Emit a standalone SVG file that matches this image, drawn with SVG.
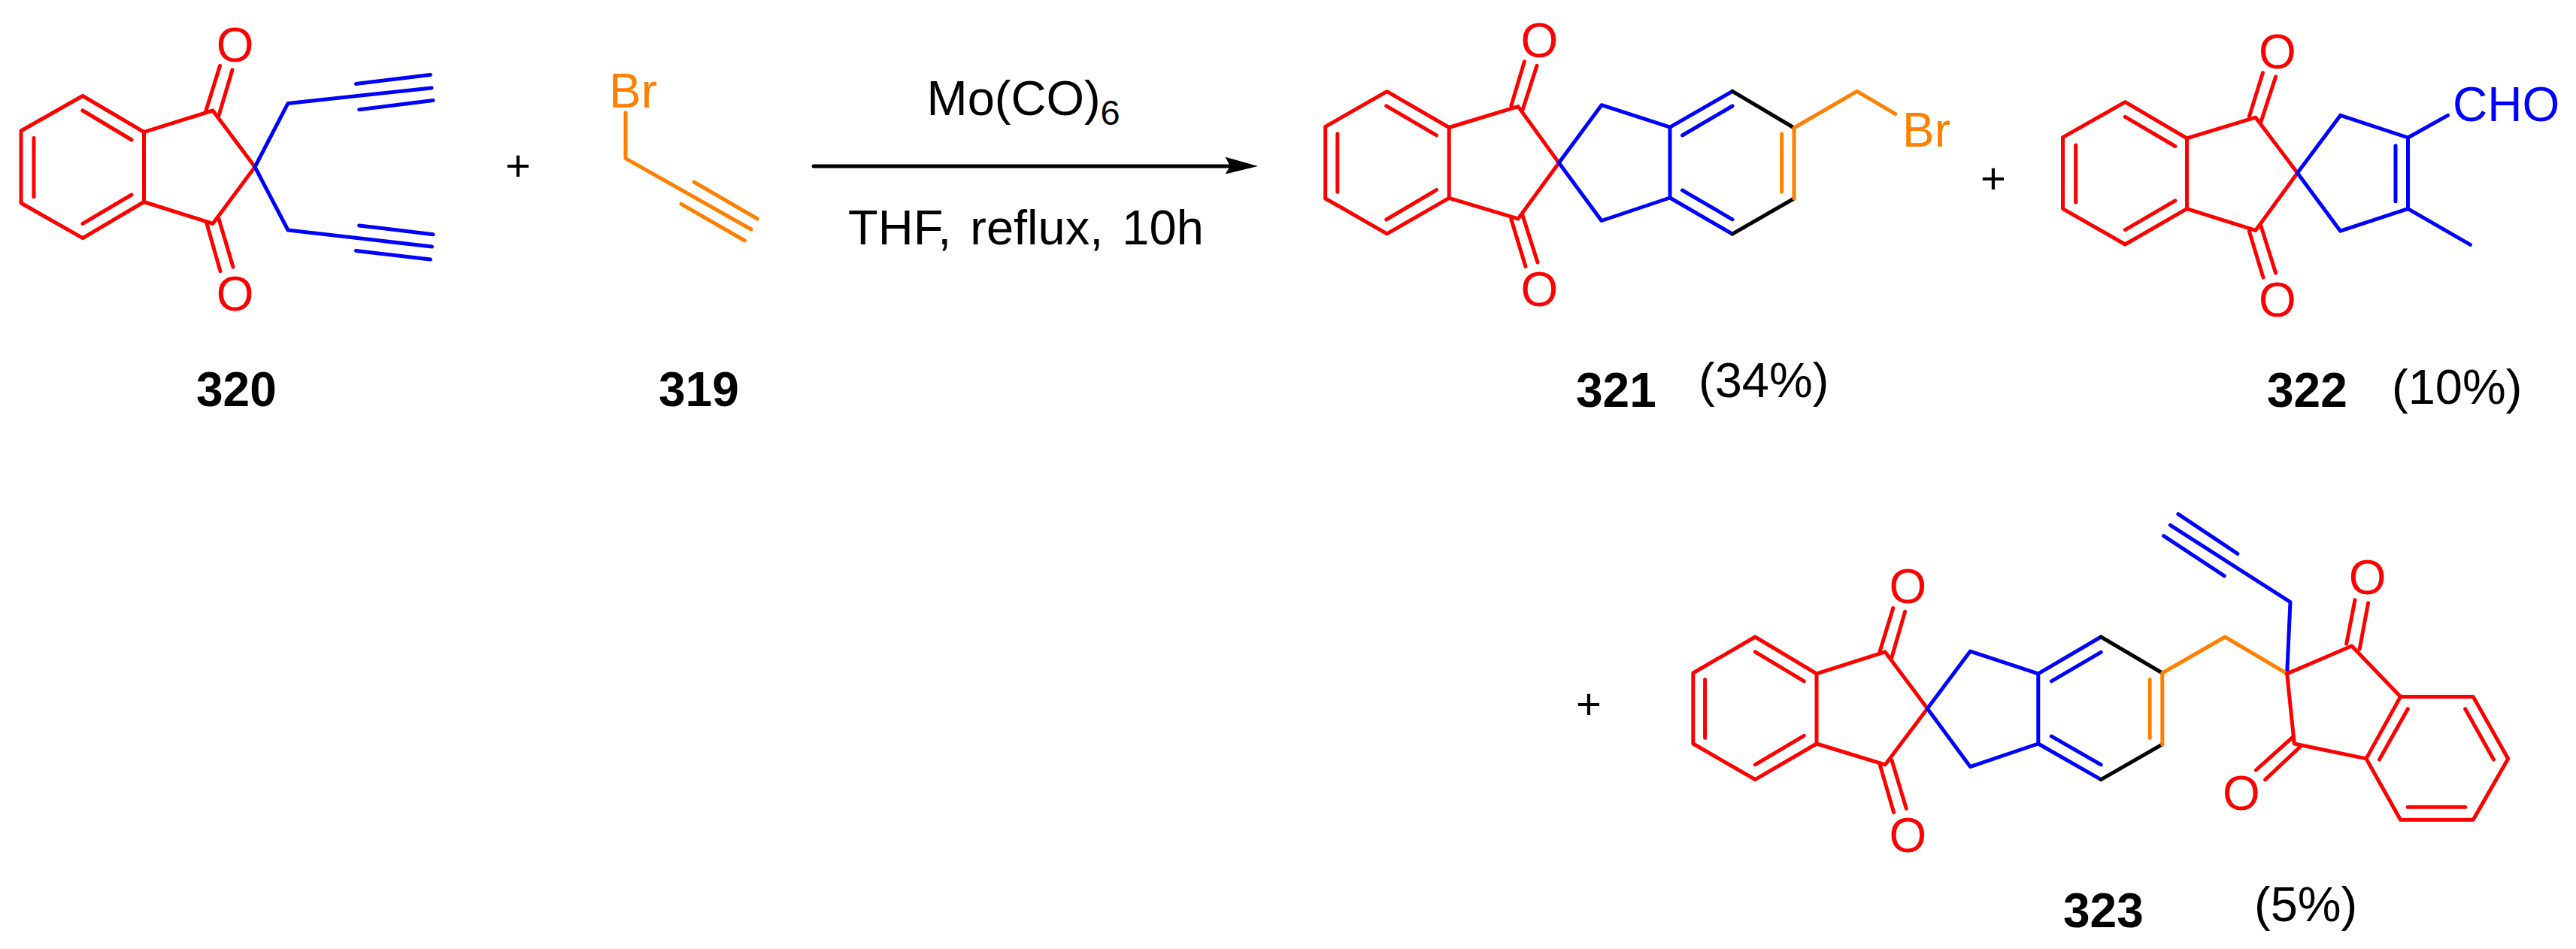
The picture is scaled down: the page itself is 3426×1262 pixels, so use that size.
<svg xmlns="http://www.w3.org/2000/svg" width="3426" height="1262" viewBox="0 0 3426 1262">
<style>
text{font-family:"Liberation Sans",Arial,sans-serif;font-size:64px;fill:#000}
.b{font-weight:bold}
.p{font-size:58px;text-anchor:middle}
.o{text-anchor:middle;fill:#f00}
.ro{fill:#ff8000}.rb{fill:#00f}
path{fill:none;stroke-width:5;stroke-linecap:round;stroke-linejoin:round}
.r{stroke:#f00}.u{stroke:#00f}.g{stroke:#ff8000}.k{stroke:#000}
</style>
<rect width="3426" height="1262" fill="#fff"/>
<g id="mol-320">
<path class="r" d="M110 127.5L191.5 175.6V268.5L110 316.7L28 270V174ZM110 147L175 186M45 183.5V261.7M110 297.4L175 259M191.5 175.6L283 147L339 222L283 297.4L191.5 268.5M274 147L292.5 87.5M291 153.5L309 93M275 297.4L293 360.6M291 291L310 355"/>
<path class="u" d="M339 222L383 137.4L574 117M473.5 111.4L572.4 99.6M477.7 145.7L576 133.5M339 222L383 306L574.5 328M477.7 300L576 311.7M473.5 333.4L572.4 344.9"/>
<text class="o" x="312.6" y="82">O</text><text class="o" x="312.6" y="413">O</text>
<text class="b" x="261" y="540">320</text>
</g>
<text id="plus-1" class="p" x="689" y="240">+</text>
<g id="mol-319">
<path class="g" d="M832 150V210.6L999 305M923 242L1007.4 291M906 271.3L990.5 320"/>
<text class="ro" x="810" y="142.8">Br</text>
<text class="b" x="876" y="540">319</text>
</g>
<g id="connectors">
<path class="k" d="M1082 221H1640"/>
<polygon points="1673,221 1629.6,208.8 1636,221 1629.6,231.5" fill="#000"/>
</g>
<g id="conditions">
<text x="1232.5" y="153" font-size="65" style="font-size:65px">Mo(CO)<tspan style="font-size:47px" dy="12.7">6</tspan></text>
<text x="1128" y="324.5" style="font-size:65px;word-spacing:7px">THF, reflux, 10h</text>
</g>
<g id="mol-321">
<path class="r" d="M1844.6 121.7L1927.2 169.5V263.3L1844.6 310.8L1762.7 264V168.4ZM1843.8 140.8L1910.4 179.9M1778.8 178V255.3M1843.8 292L1910.4 252.6M1927.2 169.5L2019 141.6L2073.3 216.6L2019 290.9L1927.2 263.3M2009.8 140.8L2027.4 81.9M2025 146.2L2044 87.3M2009.8 291.6L2029 354.4M2025 286.3L2045 349"/>
<path class="u" d="M2073.3 216.6L2130 139.7L2221 169.2V263L2130 293.5L2073.3 216.6M2221 169.2L2304 121.4M2221 263L2304 311.2M2237.5 180L2304 141M2237.5 253L2304 291.8"/>
<path class="k" d="M2304 121.4L2386 170M2386 264L2304 311.2"/>
<path class="g" d="M2386 264V170L2469.8 121.4L2520.6 151.4M2369.7 178V255"/>
<text class="o" x="2047.5" y="76">O</text><text class="o" x="2047.5" y="407">O</text>
<text class="ro" x="2530" y="195">Br</text>
<text class="b" x="2096" y="541">321</text>
<text x="2259" y="528" style="font-size:65px">(34%)</text>
</g>
<text id="plus-2" class="p" x="2651" y="256.5">+</text>
<g id="mol-322">
<path class="r" d="M2826.4 135.6L2908.5 183.9V277.6L2826.4 325L2743.5 277.6V182.7ZM2826.4 155.4L2892.9 194.5M2760.7 193V268.9M2826.4 305.6L2892.9 266.9M2908.5 183.9L2999.9 156.2L3055.5 230L2999.9 306.4L2908.5 277.6M2991.4 155L3009.4 96.9M3007 162L3026.6 102M2991.4 307.6L3010 369M3007 300.5L3026.6 363"/>
<path class="u" d="M3055.5 230L3112.6 153.4L3202.5 183V277.6L3112.6 307.2ZM3186 193.7V267.7M3202.5 277.6L3285.4 325.4M3202.5 183L3255.7 153.4"/>
<text class="o" x="3029" y="90.5">O</text><text class="o" x="3029" y="421">O</text>
<text class="rb" x="3262" y="161">CHO</text>
<text class="b" x="3015" y="541">322</text>
<text x="3181" y="537" style="font-size:65px">(10%)</text>
</g>
<text id="plus-3" class="p" x="2113" y="956">+</text>
<g id="mol-323">
<path class="r" d="M2334.3 847L2416 895.9V989L2334.3 1036.7L2251.8 989V895ZM2334.3 866.9L2399.3 905.8M2267.6 903.8V981.2M2334.3 1016.9L2399.3 978.4M2416 895.9L2507.2 866.9L2563.4 942.3L2507.2 1016.9L2416 989M2500.2 866L2517.8 808.6M2516 874L2533.6 813.4M2500.2 1016.9L2518.6 1080.3M2516 1011L2535.3 1075.2"/>
<path class="u" d="M2563.4 942.3L2620.4 866.1L2710.8 895.9V989L2620.4 1019.6ZM2710.8 895.9L2794.2 847M2710.8 989L2794.2 1036.7M2728.4 905.8L2794.2 867.3M2728.4 979.2L2794.2 1016.9M3041.7 895.9L3046 800.7L2886.4 698.3M2975.9 736.4L2896.9 683.6M2958.3 765.8L2877.6 712.6"/>
<path class="k" d="M2794.2 847L2875.8 895M2875.8 989.9L2794.2 1036.7"/>
<path class="g" d="M2875.8 989.9V895L2959.2 847L3041.7 895.9M2859.2 903.8V981.2"/>
<path class="r" d="M3041.7 895.9L3127.7 859L3192.6 926.4H3289.2L3335.7 1008.9L3289.2 1090.3H3192.6L3147 1008.9L3192.6 926.4M3041.7 895.9L3051.3 989L3147 1008.9M3202.3 942.7L3164.5 1010M3278.7 942.7L3316.4 1010M3202.3 1073.2H3278.7M3120.7 856.2L3132 797.9M3138.2 863L3149.6 801.9M3050.5 979.2L3000.5 1024M3059.2 993L3012.7 1036.7"/>
<text class="o" x="2537.5" y="802">O</text><text class="o" x="2537.5" y="1132.5">O</text>
<text class="o" x="3148.6" y="790">O</text><text class="o" x="2981" y="1077">O</text>
<text class="b" x="2744" y="1233">323</text>
<text x="2998" y="1225" style="font-size:65px">(5%)</text>
</g>
</svg>
